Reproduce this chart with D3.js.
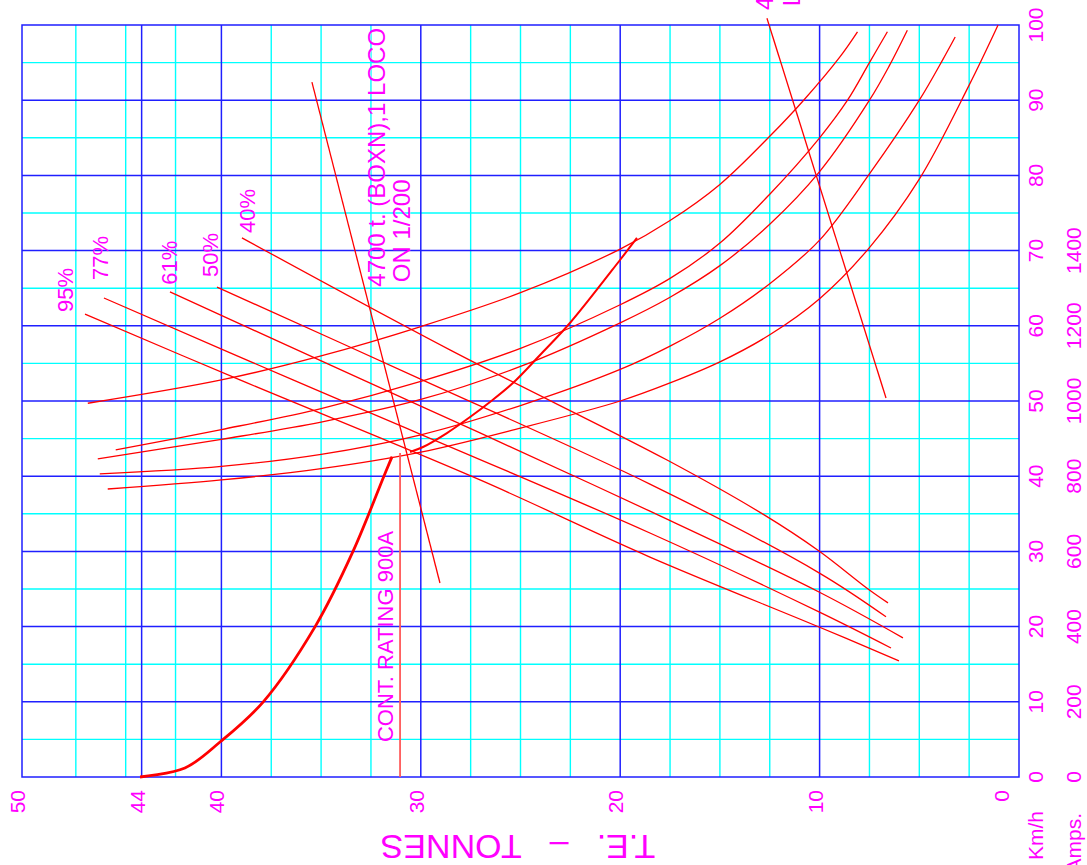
<!DOCTYPE html>
<html>
<head>
<meta charset="utf-8">
<script src="https://cdn.jsdelivr.net/npm/d3@7"></script>
<style>
body { margin: 0; background: #fff; }
svg { display: block; font-family: "Liberation Sans", Arial, sans-serif; }
text { fill: #ff00ff; }
</style>
</head>
<body>
<div id="chart-area"></div>
<script>
// T.E. (tonnes) vs speed (km/h) and current (amps), drawn rotated like the original sheet

// Axis ticks
var teLabels = [50, 44, 40, 30, 20, 10, 0];
var teMajor = [44, 40, 30, 20, 10];
var teMinor = [2.5, 5, 7.5, 12.5, 15, 17.5, 22.5, 25, 27.5, 32.5, 35, 37.5, 42.3, 44.8, 47.3];
var kmhLabels = [0, 10, 20, 30, 40, 50, 60, 70, 80, 90, 100];
var kmhMajor = [10, 20, 30, 40, 50, 60, 70, 80, 90];
var kmhMinor = [5, 15, 25, 35, 45, 55, 65, 75, 85, 95];
var ampLabels = [0, 200, 400, 600, 800, 1000, 1200, 1400];

// Speed curves [TE, km/h]
var kmh40 = [[46.7, 49.7], [40, 52.8], [35, 56.0], [30, 59.9], [25, 64.4], [20, 70.2], [17.5, 74.0],
  [15, 78.8], [12.5, 85.2], [10.8, 90.0], [9.0, 95.7], [8.1, 99.1]];
var kmh50 = [[45.3, 43.5], [40, 46.2], [35, 49.0], [30, 52.6], [25, 57.0], [20, 62.8], [17.5, 66.3],
  [15, 71.0], [12.5, 77.5], [10, 85.0], [8.6, 90.0], [7.5, 95.0], [6.6, 99.1]];
var kmh61 = [[46.2, 42.3], [40, 44.9], [35, 47.2], [30, 50.2], [25, 54.6], [20, 60.4], [17.5, 63.8],
  [15, 68.0], [12.5, 73.5], [10, 80.5], [7.5, 90.0], [6.5, 94.6], [5.6, 99.3]];
var kmh77 = [[46.1, 40.3], [40, 41.3], [35, 42.9], [30, 45.5], [25, 49.4], [20, 54.2], [17.5, 57.3],
  [15, 61.0], [12.5, 65.6], [10, 71.4], [7.5, 80.2], [5, 90.0], [3.8, 95.5], [3.2, 98.4]];
var kmh95 = [[45.7, 38.3], [40, 39.5], [35, 41.0], [30, 43.2], [25, 46.4], [20, 50.0], [17.5, 52.4],
  [15, 55.2], [12.5, 58.8], [10, 63.6], [7.5, 70.4], [5, 79.5], [2.5, 92.0], [1.05, 100.0]];

// Current curves [TE, amps]
var amps95 = [[46.84, 1231], [39.07, 1056], [27.03, 790], [18.51, 585], [10.03, 399], [6.02, 309]];
var amps77 = [[45.89, 1274], [36.41, 1056], [18.51, 649], [10.03, 439], [6.42, 343]];
var amps61 = [[42.58, 1290], [32.9, 1056], [27.03, 915], [18.51, 707], [10.03, 492], [5.82, 370]];
var amps50 = [[40.22, 1303], [30.04, 1059], [18.51, 779], [10.03, 543], [6.67, 426]];
var amps40 = [[38.97, 1434], [28.54, 1136], [17.65, 843], [12.84, 699], [10.03, 601], [7.57, 500], [6.57, 463]];

var fieldNames = ["95%", "77%", "61%", "50%", "40%"];
var fieldLabelAt = [[47.44, 1237], [45.69, 1322], [42.23, 1309], [40.17, 1330], [38.31, 1447]];

// Thick limit curves [TE, km/h]
var adhesionCurve = [[44.08, 0], [41.83, 1.2], [40.07, 4.65], [37.9, 10], [35.3, 20], [33.4, 30],
  [31.85, 40], [31.44, 42.6]];
var upperCurve = [[30.54, 43.22], [29.89, 43.88], [28.69, 45.74], [27.53, 47.87], [26.53, 49.87], [25.38, 52.39],
  [24.02, 56.12], [22.52, 60.37], [20.01, 68.75], [19.16, 71.68]];

// Continuous rating and load lines [TE, km/h]
var contRating = [[31.04, 0], [31.04, 43.1]];
var loadLine200 = [[35.46, 92.4], [29.04, 25.8]];
var loadLineLevel = [[12.64, 100.9], [6.67, 50.4]];

var margin = { left: 22, right: 68, top: 25, bottom: 88 };
var width = 1087 - margin.left - margin.right;
var height = 865 - margin.top - margin.bottom;

var svg = d3.select("#chart-area")
  .append("svg")
  .attr("width", 1087)
  .attr("height", 865);

var g = svg.append("g")
  .attr("transform", "translate(" + margin.left + "," + margin.top + ")");

var x = d3.scaleLinear().domain([50, 0]).range([0, width]);
var y = d3.scaleLinear().domain([0, 100]).range([height, 0]);
var yAmps = d3.scaleLinear().domain([0, 2000]).range([height, 0]);

var CYAN = "#00ffff", BLUE = "#1f1fff", RED = "#ff0000";

// grid - cyan first
g.selectAll(".vminor").data(teMinor).enter().append("line")
  .attr("x1", function (d) { return x(d) }).attr("x2", function (d) { return x(d) })
  .attr("y1", 0).attr("y2", height)
  .attr("stroke", CYAN).attr("stroke-width", 1.4);
g.selectAll(".hminor").data(kmhMinor).enter().append("line")
  .attr("y1", function (d) { return y(d) }).attr("y2", function (d) { return y(d) })
  .attr("x1", 0).attr("x2", width)
  .attr("stroke", CYAN).attr("stroke-width", 1.4);

g.selectAll(".vmajor").data(teMajor).enter().append("line")
  .attr("x1", function (d) { return x(d) }).attr("x2", function (d) { return x(d) })
  .attr("y1", 0).attr("y2", height)
  .attr("stroke", BLUE).attr("stroke-width", 1.5);
g.selectAll(".hmajor").data(kmhMajor).enter().append("line")
  .attr("y1", function (d) { return y(d) }).attr("y2", function (d) { return y(d) })
  .attr("x1", 0).attr("x2", width)
  .attr("stroke", BLUE).attr("stroke-width", 1.5);

g.append("rect")
  .attr("width", width).attr("height", height)
  .attr("fill", "none").attr("stroke", BLUE).attr("stroke-width", 1.5);

// curves
var speedLine = d3.line()
  .x(function (d) { return x(d[0]) })
  .y(function (d) { return y(d[1]) })
  .curve(d3.curveCatmullRom.alpha(0.5));
var ampLine = d3.line()
  .x(function (d) { return x(d[0]) })
  .y(function (d) { return yAmps(d[1]) })
  .curve(d3.curveCatmullRom.alpha(0.5));
var straight = d3.line()
  .x(function (d) { return x(d[0]) })
  .y(function (d) { return y(d[1]) });

[kmh40, kmh50, kmh61, kmh77, kmh95].forEach(function (c) {
  g.append("path").attr("d", speedLine(c))
    .attr("fill", "none").attr("stroke", RED).attr("stroke-width", 1.3);
});

[amps95, amps77, amps61, amps50, amps40].forEach(function (c) {
  g.append("path").attr("d", ampLine(c))
    .attr("fill", "none").attr("stroke", RED).attr("stroke-width", 1.3);
});

g.append("path").attr("d", speedLine(adhesionCurve))
  .attr("fill", "none").attr("stroke", RED).attr("stroke-width", 2.8);
g.append("path").attr("d", speedLine(upperCurve))
  .attr("fill", "none").attr("stroke", RED).attr("stroke-width", 2);

g.append("path").attr("d", straight(contRating))
  .attr("fill", "none").attr("stroke", "#ff5a5a").attr("stroke-width", 1.8);
[loadLine200, loadLineLevel].forEach(function (c) {
  g.append("path").attr("d", straight(c))
    .attr("fill", "none").attr("stroke", RED).attr("stroke-width", 1.3);
});

// text helper: rotated -90 (reads bottom to top)
function upText(px, py, str, size, anchor) {
  return g.append("text")
    .attr("transform", "translate(" + px + "," + py + ") rotate(-90)")
    .attr("text-anchor", anchor || "start")
    .attr("font-size", size)
    .style("white-space", "pre")
    .text(str);
}

// bottom TE labels
teLabels.forEach(function (d) {
  upText(x(d) + (d === 0 ? -10 : 3), height + 13, String(d), 21, "end");
});

// right axis labels
kmhLabels.forEach(function (d) {
  upText(width + 24, y(d), String(d), 21, "middle");
});
ampLabels.forEach(function (d) {
  upText(width + 62, yAmps(d), String(d), 21, "middle");
});
upText(width + 24, height + 34, "Km/h", 21, "end");
upText(width + 62, height + 36, "Amps.", 21, "end");

// field labels
fieldNames.forEach(function (name, i) {
  upText(x(fieldLabelAt[i][0]), yAmps(fieldLabelAt[i][1]), name, 22, "start");
});

upText(x(31.8), y(65.2), "4700 t. (BOXN),1 LOCO", 24, "start");
upText(x(30.54), y(65.8), "ON 1/200", 24, "start");
upText(x(31.39), y(4.65), "CONT. RATING 900A", 22, "start");
upText(x(12.34), y(102), "4700 t. (BOXN),1 LOCO", 24, "start");
upText(x(10.98), y(102.5), "LEVEL", 24, "start");

// upside-down title
g.append("text")
  .attr("transform", "translate(" + (518 - margin.left) + "," + (height + 58) + ") rotate(180)")
  .attr("text-anchor", "middle")
  .attr("font-size", 34)
  .style("white-space", "pre")
  .text("T.E.   \u2013   TONNES");
</script>
</body>
</html>
